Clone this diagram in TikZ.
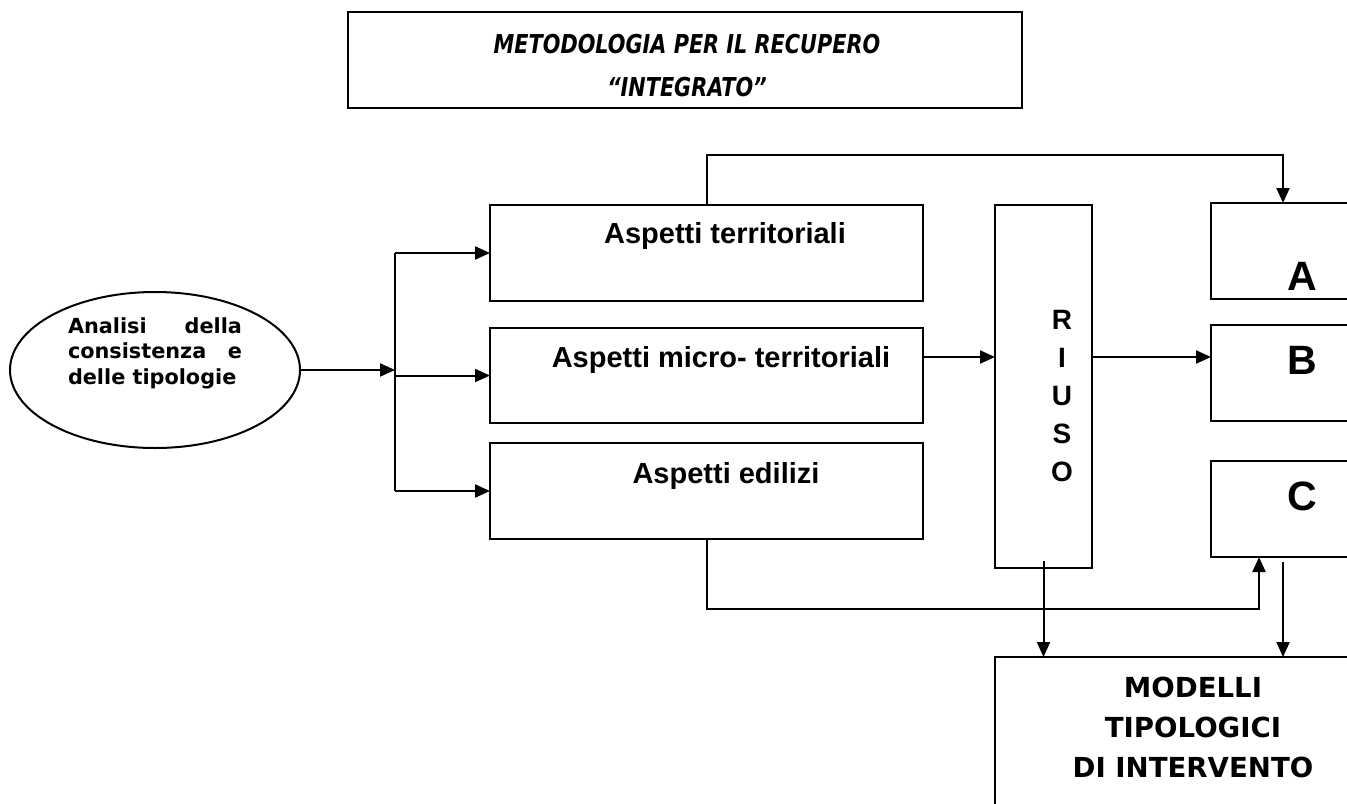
\documentclass[tikz,border=0pt]{standalone}
\usepackage{fontspec}
\setmainfont{Liberation Sans}
\newfontfamily\verdana{DejaVu Sans}
\newfontfamily\titlefont[FakeStretch=0.8]{DejaVu Sans}
\usetikzlibrary{arrows.meta,shapes.geometric}

\begin{document}
\begin{tikzpicture}[
    x=0.5pt, y=-0.5pt,
    blk/.style={draw, line width=1pt, rectangle, inner sep=0pt, outer sep=0pt},
    boxlbl/.style={font=\bfseries\fontsize{14.5}{17}\selectfont, anchor=base, inner sep=0pt},
    letterlbl/.style={font=\bfseries\fontsize{20.5}{24}\selectfont, anchor=base, inner sep=0pt},
    conn/.style={line width=1pt},
    arr/.style={conn, -{Triangle[length=7.5pt,width=6.5pt]}}
  ]
  \path[use as bounding box] (0,0) rectangle (1347,803);
  \clip (0,0) rectangle (1347,803);

  % titolo
  \node[blk, minimum width=337pt, minimum height=48pt] (titolo) at (685,60) {};
  \node[align=center, inner sep=0pt,
    font=\titlefont\bfseries\itshape\fontsize{13}{21.5}\selectfont] (titolo-t) at (687,66)
    {METODOLOGIA PER IL RECUPERO\\“INTEGRATO”};

  % analisi
  \node[blk, ellipse, minimum width=145pt, minimum height=78pt] (anal) at (155,370) {};
  \node[font=\verdana\bfseries\fontsize{10.4}{12.75}\selectfont,
    text width=87pt, align=justify, inner sep=0pt] (anal-t) at (155,353)
    {\hyphenpenalty=10000 \tolerance=10000 Analisi della consistenza e delle tipologie};

  % aspetti
  \node[blk, minimum width=216.5pt, minimum height=48pt] (terr) at (706.5,253) {};
  \node[blk, minimum width=216.5pt, minimum height=47.5pt] (micro) at (706.5,375.5) {};
  \node[blk, minimum width=216.5pt, minimum height=48pt] (edil) at (706.5,491) {};
  \node[boxlbl] (terr-t) at (725,243) {Aspetti territoriali};
  \node[boxlbl] (micro-t) at (721,367) {Aspetti micro- territoriali};
  \node[boxlbl] (edil-t) at (726,483) {Aspetti edilizi};

  % riuso
  \node[blk, minimum width=48.5pt, minimum height=181.5pt] (riuso) at (1043.5,386.5) {};
  \node[align=center, font=\bfseries\fontsize{14}{19}\selectfont, inner sep=0pt] (riuso-t)
    at (1062,396) {R\\I\\U\\S\\O};

  % A B C
  \foreach \n/\y in {A/251,B/373,C/509}
    \node[blk, minimum width=72pt, minimum height=48pt] (\n) at (1283,\y) {};
  \foreach \n/\y in {A/290,B/374,C/510}
    \node[letterlbl] (\n-t) at (1302,\y) {\n};

  % modelli
  \node[blk, minimum width=202.5pt, minimum height=121.5pt] (mod) at (1197.5,778.5) {};
  \node[align=center, font=\verdana\bfseries\fontsize{13.8}{20}\selectfont, inner sep=0pt] (mod-t)
    at (1193,727) {MODELLI\\TIPOLOGICI\\DI INTERVENTO};

  \coordinate (bus) at (395,370);
  \coordinate (flow) at (960,357);
  \coordinate (ret) at (1259,609);

  \draw[arr] (anal.east) -- (bus);
  \draw[conn] (bus |- terr.west) -- (bus |- edil.west);
  \foreach \b in {terr,micro,edil}
    \draw[arr] (bus |- \b.west) -- (\b.west);
  \draw[arr] (micro.east |- flow) -- (riuso.west |- flow);
  \draw[arr] (riuso.east |- flow) -- (B.west |- flow);
  \draw[arr] (terr.north) -- ++(0,-50) -| (A.north);
  \draw[arr] (edil.south) |- (ret) -- (ret |- C.south);
  \draw[arr] ([yshift=3.5pt]riuso.south) -- (riuso.south |- mod.north);
  \draw[arr] ([yshift=-2.5pt]C.south) -- (C.south |- mod.north);
\end{tikzpicture}
\end{document}
